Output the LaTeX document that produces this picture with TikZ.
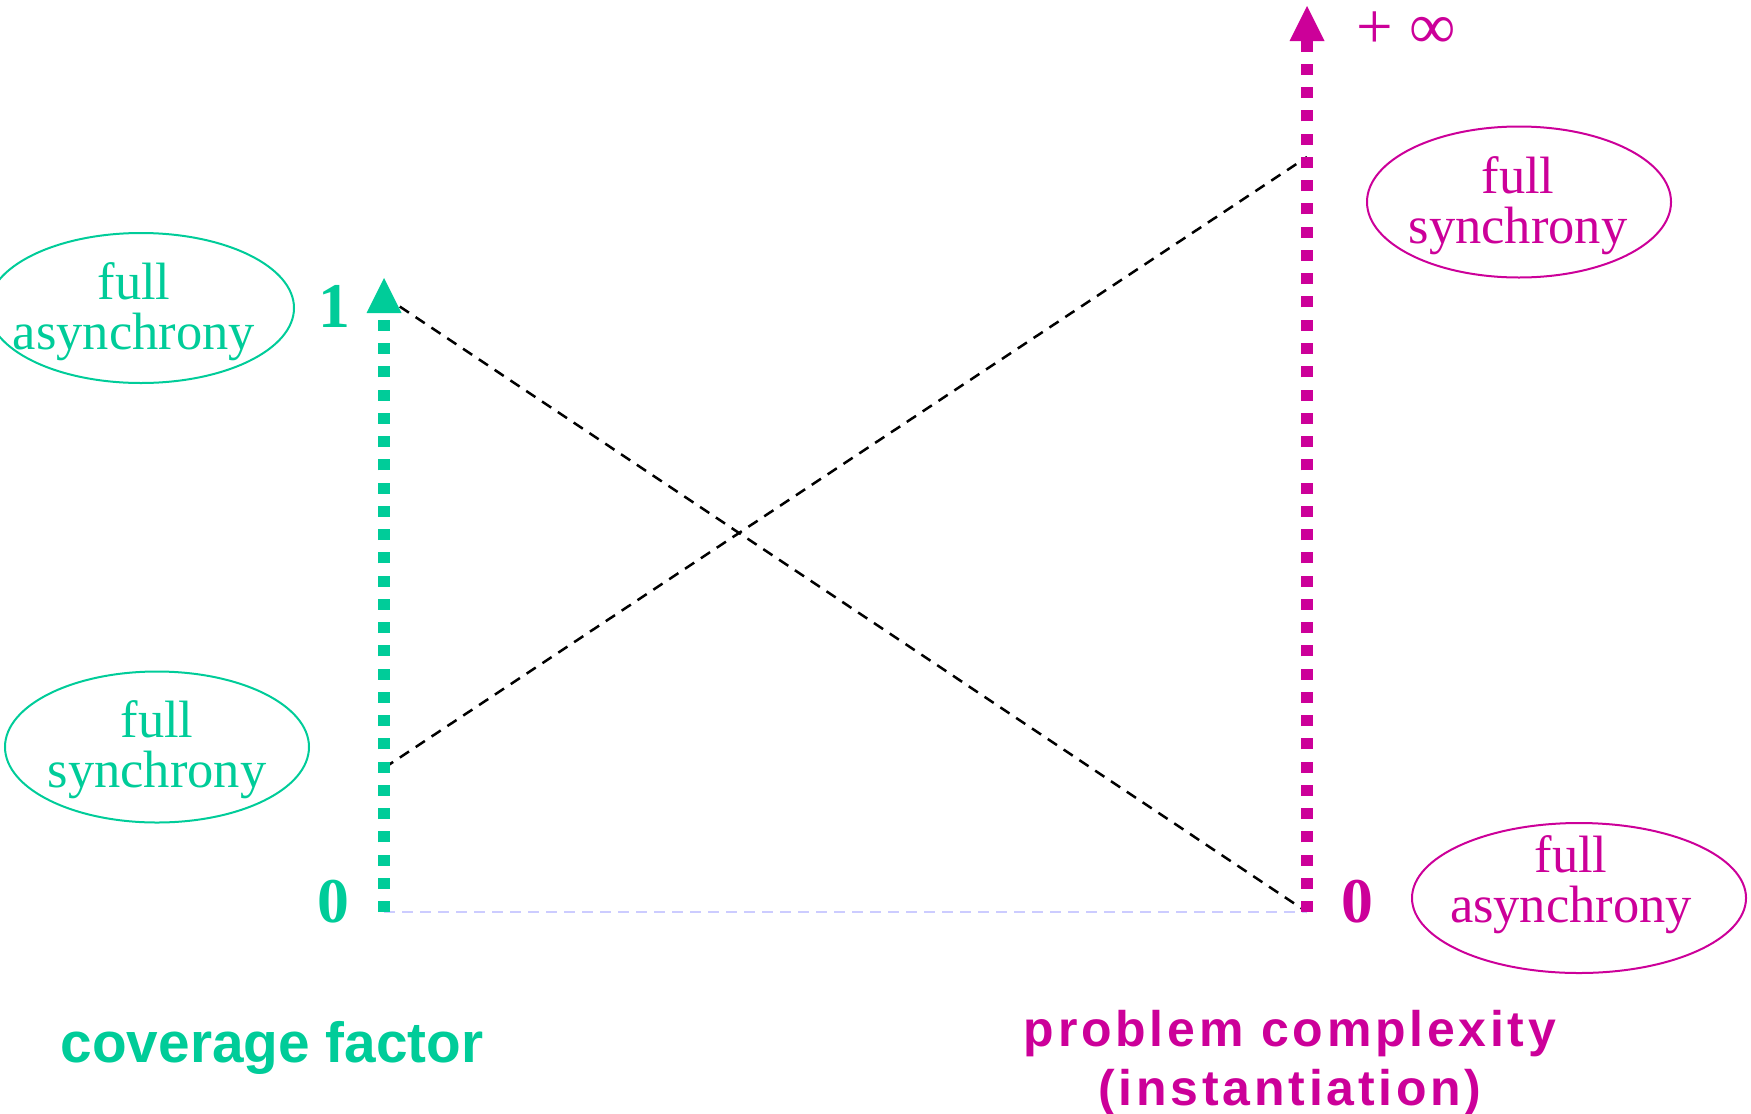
\documentclass[tikz,border=0pt]{standalone}
\usepackage{fontspec}
\setmainfont{Liberation Serif}
\setsansfont{Liberation Sans}
\newfontfamily\spacedsans[LetterSpace=7.5]{Liberation Sans}
\usetikzlibrary{arrows.meta,shapes.geometric}
\definecolor{cover}{RGB}{0,204,153}
\definecolor{cplx}{RGB}{204,0,153}
\definecolor{floorline}{RGB}{204,204,255}

\begin{document}
\begin{tikzpicture}[x=0.4pt,y=-0.4pt,
  axis/.style={line width=4.8pt, dash pattern=on 4.4pt off 4.9pt,
    -{Triangle[width=14pt,length=14pt,line width=0pt]}},
  trend/.style={black, line width=1pt, dash pattern=on 4.4pt off 3.2pt},
  floorrule/.style={floorline, line width=0.8pt, dash pattern=on 4.4pt off 2.8pt},
  regime/.style={ellipse, draw, line width=0.8pt, inner sep=0pt},
  regimetext/.style={font=\fontsize{21}{20}\selectfont, align=center, inner sep=0pt},
  tick/.style={font=\fontsize{25.5}{26}\selectfont\bfseries, inner sep=0pt},
]
\useasboundingbox (0,0) rectangle (1751,1113);

% axis end points
\coordinate (gbot) at (384,912);
\coordinate (gtop) at (384,278);
\coordinate (mbot) at (1307,912);
\coordinate (mtop) at (1307,6);
% trend line end points
\coordinate (gdrop) at (384,296);
\coordinate (grise) at (384,768);
\coordinate (mrise) at (1307,157);

% trends between the two scales
\draw[trend] (gdrop) -- (mbot);
\draw[trend] (grise) -- (mrise);
\draw[floorrule] (gbot) -- (mbot);

% the two scales
\draw[axis, cover] (gbot) -- (gtop);
\draw[axis, cplx] (mbot) -- (mtop);

% scale values
\node[tick, cover] (one) at (334,306) {1};
\node[tick, cover] (gzero) at (333,902) {0};
\node[tick, cplx] (mzero) at (1357,902) {0};
\node[cplx, font=\fontsize{26}{28}\selectfont, inner sep=0pt, anchor=base west] (inf) at (1356,48) {+ ∞};

% regimes on the coverage scale
\node[regime, cover, minimum width=122.4pt, minimum height=60pt] (gasyncE) at (141,308) {};
\node[regimetext, cover] (gasync) at (134,312) {full\\asynchrony};
\node[regime, cover, minimum width=121.6pt, minimum height=60.4pt] (gsyncE) at (157,747) {};
\node[regimetext, cover] (gsync) at (157,750) {full\\synchrony};

% regimes on the complexity scale
\node[regime, cplx, minimum width=121.6pt, minimum height=60.4pt] (msyncE) at (1519,202) {};
\node[regimetext, cplx] (msync) at (1518,206) {full\\synchrony};
\node[regime, cplx, minimum width=133.6pt, minimum height=60pt] (masyncE) at (1579,898) {};
\node[regimetext, cplx] (masync) at (1571,885) {full\\asynchrony};

% scale titles
\node[cover, font=\sffamily\bfseries\fontsize{22.7}{24}\selectfont, inner sep=0pt, anchor=base] (cf) at (272,1062) {coverage factor};
\node[cplx, font=\spacedsans\bfseries\fontsize{20}{23.6}\selectfont, align=center, inner sep=0pt] (pc) at (1290,1063) {problem complexity\\(instantiation)};
\end{tikzpicture}
\end{document}
